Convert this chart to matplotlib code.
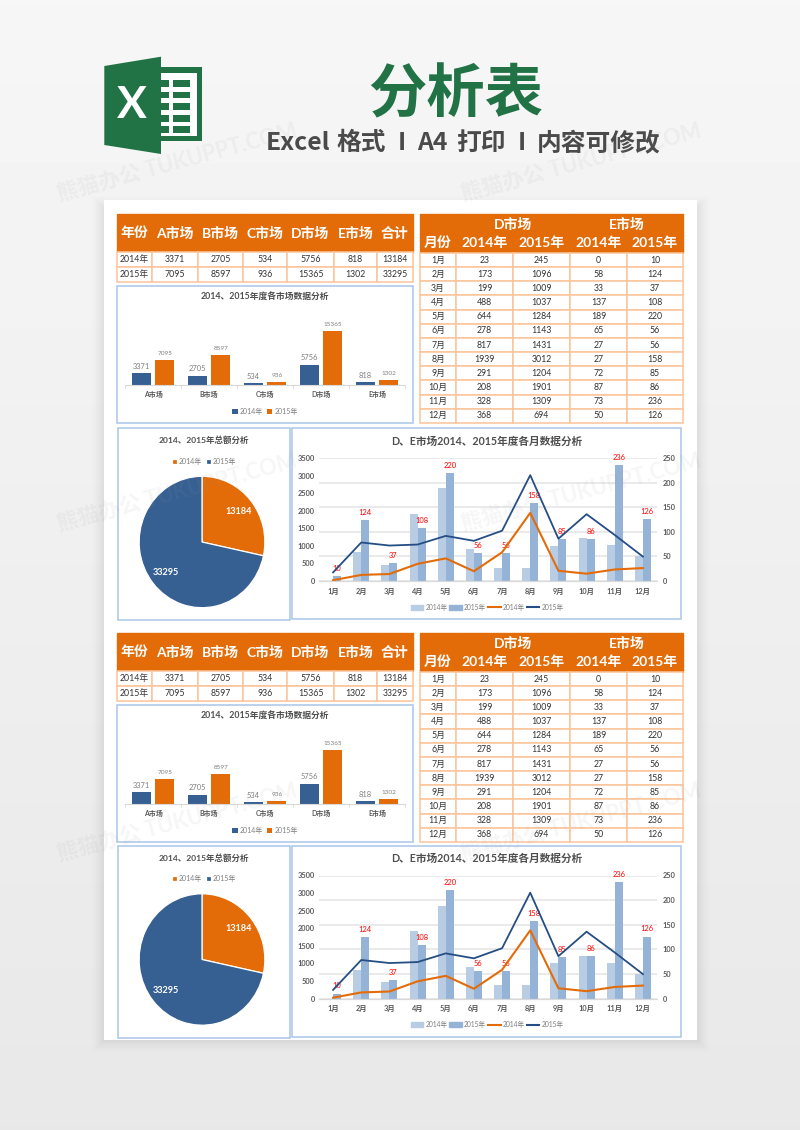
"""
Excel template poster: market tables, bar chart, pie and monthly combo chart, two copies on one page.
"""
import numpy as np
import matplotlib.pyplot as plt
from matplotlib.patches import Rectangle, Polygon
from matplotlib.lines import Line2D

plt.rcParams['font.family'] = ['Lato', 'Noto Sans CJK SC', 'DejaVu Sans']

# Data
markets = ['A市场', 'B市场', 'C市场', 'D市场', 'E市场']
market_2014 = [3371, 2705, 534, 5756, 818]
market_2015 = [7095, 8597, 936, 15365, 1302]
total_2014 = 13184
total_2015 = 33295
months = ['1月', '2月', '3月', '4月', '5月', '6月', '7月', '8月', '9月', '10月', '11月', '12月']
d_2014 = [23, 173, 199, 488, 644, 278, 817, 1939, 291, 208, 328, 368]
d_2015 = [245, 1096, 1009, 1037, 1284, 1143, 1431, 3012, 1204, 1901, 1309, 694]
e_2014 = [0, 58, 33, 137, 189, 65, 27, 27, 72, 87, 73, 50]
e_2015 = [10, 124, 37, 108, 220, 56, 56, 158, 85, 86, 236, 126]
left_ticks = [0, 500, 1000, 1500, 2000, 2500, 3000, 3500]
right_ticks = [0, 50, 100, 150, 200, 250]

# Colours
ORANGE = '#E36C09'
BLUE = '#376092'
LINE_BLUE = '#254E84'
LIGHT1 = '#B8CCE4'
LIGHT2 = '#95B3D7'
GREEN = '#217346'
CELL_EDGE = '#FBC49A'
PANEL_EDGE = '#A9C5E8'
TXT = '#333333'
GREY = '#7F7F7F'
TITLE = '#505050'

W, H = 800, 1130
fig = plt.figure(figsize=(W / 100, H / 100), dpi=100)

bg = fig.add_axes([0, 0, 1, 1], zorder=-1)
grad = np.linspace(0.965, 0.91, 256).reshape(-1, 1)
bg.imshow(grad, cmap='gray', vmin=0, vmax=1, extent=(0, W, H, 0), aspect='auto')
bg.set_xlim(0, W)
bg.set_ylim(H, 0)
bg.axis('off')


def px_axes(l, t, r, b, **kw):
    return fig.add_axes([l / W, 1 - b / H, (r - l) / W, (b - t) / H], **kw)


def panel(l, t, r, b):
    bg.add_patch(Rectangle((l, t), r - l, b - t, facecolor='white', edgecolor=PANEL_EDGE, linewidth=1.1))


def make_table(l, t, r, b, rows, col_edges, row_heights, header_rows, size_body=6.3, size_head=10):
    ax = px_axes(l, t, r, b)
    ax.axis('off')
    col_w = np.diff(col_edges) / (col_edges[-1] - col_edges[0])
    tb = ax.table(cellText=rows, colWidths=list(col_w), cellLoc='center', bbox=[0, 0, 1, 1])
    tb.auto_set_font_size(False)
    for (i, j), cell in tb.get_celld().items():
        cell.set_height(row_heights[i])
        cell.PAD = 0.01
        if i < header_rows:
            cell.set_facecolor(ORANGE)
            cell.set_edgecolor(ORANGE)
            cell.get_text().set_color('white')
            cell.get_text().set_fontweight('bold')
            cell.get_text().set_fontsize(size_head)
        else:
            cell.set_facecolor('white')
            cell.set_edgecolor(CELL_EDGE)
            cell.set_linewidth(1.1)
            cell.get_text().set_color(TXT)
            cell.get_text().set_fontsize(size_body)
    return ax


def draw_bar_chart(dy):
    panel(117, 286 + dy, 413, 423 + dy)
    bg.text(265, 297 + dy, '2014、2015年度各市场数据分析', ha='center', va='center',
            fontsize=6.3, fontweight='bold', color=TITLE)
    ax = px_axes(125, 315 + dy, 405, 385 + dy)
    ax.patch.set_visible(False)
    x = np.arange(len(markets))
    b1 = ax.bar(x - 0.21, market_2014, 0.34, color=BLUE, label='2014年')
    b2 = ax.bar(x + 0.21, market_2015, 0.34, color=ORANGE, label='2015年')
    ax.bar_label(b1, padding=2.5, fontsize=5.4, color=GREY)
    ax.bar_label(b2, padding=3, fontsize=4.6, color=GREY)
    ax.set_xlim(-0.5, 4.5)
    ax.set_ylim(0, 20000)
    ax.set_yticks([])
    ax.set_xticks(x)
    ax.set_xticklabels(markets, fontsize=5, fontweight='bold', color='#595959')
    ax.set_xticks(np.arange(-0.5, 5), minor=True)
    ax.tick_params(axis='x', which='major', length=0, pad=4)
    ax.tick_params(axis='x', which='minor', length=2, color='#D9D9D9', width=0.6)
    for s in ['top', 'left', 'right']:
        ax.spines[s].set_visible(False)
    ax.spines['bottom'].set_color('#D9D9D9')
    ax.legend(loc='center', bbox_to_anchor=(265, 411 + dy), bbox_transform=bg.transData, ncol=2,
              frameon=False, fontsize=5, labelcolor=GREY, handlelength=0.8, handleheight=0.8,
              handletextpad=0.3, columnspacing=0.5, borderpad=0)


def draw_pie(dy):
    panel(118, 428 + dy, 290, 620 + dy)
    bg.text(204, 440 + dy, '2014、2015年总额分析', ha='center', va='center',
            fontsize=6.1, fontweight='bold', color=TITLE)
    ax = px_axes(202 - 66, 542 + dy - 69, 202 + 66, 542 + dy + 69)
    values = [total_2014, total_2015]
    wedges, _, autotexts = ax.pie(values, colors=[ORANGE, BLUE], startangle=90, counterclock=False,
                                  radius=1, pctdistance=0.75,
                                  autopct=lambda p: f'{p / 100 * sum(values):.0f}',
                                  wedgeprops=dict(edgecolor='white', linewidth=0.9))
    for t in autotexts:
        t.set_color('white')
        t.set_fontweight('bold')
        t.set_fontsize(6.6)
    ax.set_aspect('auto')
    ax.set_xlim(-1.05, 1.05)
    ax.set_ylim(-1.05, 1.05)
    ax.legend(wedges, ['2014年', '2015年'], loc='center', bbox_to_anchor=(204, 461 + dy),
              bbox_transform=bg.transData, ncol=2, frameon=False, fontsize=5, labelcolor=GREY,
              handlelength=0.7, handleheight=0.7, handletextpad=0.3, columnspacing=0.5, borderpad=0)


def draw_combo(dy):
    panel(292, 428 + dy, 681, 619 + dy)
    bg.text(487, 441 + dy, 'D、E市场2014、2015年度各月数据分析', ha='center', va='center',
            fontsize=7.7, fontweight='bold', color=TITLE)
    x = np.arange(len(months))
    ax = px_axes(319, 458 + dy, 657, 581 + dy, zorder=2)
    ax.patch.set_visible(False)
    ax2 = ax.twinx()
    # bars are the E market on the right axis, lines the D market on the left one
    ax2.set_zorder(1)
    ax2.bar(x - 0.142, e_2014, 0.284, color=LIGHT1)
    b2 = ax2.bar(x + 0.142, e_2015, 0.284, color=LIGHT2)
    ax2.bar_label(b2, padding=3, fontsize=5.4, color='#FF0000', zorder=5)
    ax2.set_ylim(0, 250)
    ax2.set_yticks(right_ticks)
    ax2.grid(True, axis='y', color='#E4E4E4', linewidth=1.1)
    ax2.set_axisbelow(True)
    ax2.tick_params(axis='y', length=0, pad=4, labelsize=5.3, labelcolor='#595959')

    ax.plot(x, d_2014, color=ORANGE, linewidth=1.5)
    ax.plot(x, d_2015, color=LINE_BLUE, linewidth=1.3)
    ax.set_xlim(-0.5, 11.5)
    ax.set_ylim(0, 3500)
    ax.set_yticks(left_ticks)
    ax.set_xticks(x)
    ax.set_xticklabels(months, fontsize=5.3, fontweight='bold', color='#595959')
    ax.tick_params(axis='x', length=0, pad=5)
    ax.tick_params(axis='y', length=0, pad=3, labelsize=5.3, labelcolor='#595959')
    for lab in ax.get_yticklabels() + ax2.get_yticklabels():
        lab.set_fontweight('bold')
    for a in (ax, ax2):
        for s in ['top', 'left', 'right']:
            a.spines[s].set_visible(False)
        a.spines['bottom'].set_color('#D9D9D9')

    handles = [Rectangle((0, 0), 1, 1, color=LIGHT1), Rectangle((0, 0), 1, 1, color=LIGHT2),
               Line2D([], [], color=ORANGE, linewidth=1.5), Line2D([], [], color=LINE_BLUE, linewidth=1.5)]
    ax.legend(handles, ['2014年', '2015年', '2014年', '2015年'], loc='center',
              bbox_to_anchor=(487, 607 + dy), bbox_transform=bg.transData, ncol=4, frameon=False,
              fontsize=4.8, labelcolor=GREY, handlelength=1.9, handleheight=0.7,
              handletextpad=0.3, columnspacing=0.3, borderpad=0)


def draw_block(dy, dy_low):
    # summary table
    head = ['年份'] + markets + ['合计']
    rows = [head,
            ['2014年'] + [str(v) for v in market_2014] + [str(total_2014)],
            ['2015年'] + [str(v) for v in market_2015] + [str(total_2015)]]
    make_table(117, 214 + dy, 413, 282 + dy, rows, [117, 152, 198, 243, 287, 334, 377, 413], [38, 15, 15], 1)

    # monthly table, D市场 and E市场 span two columns each so they sit on top of it
    rows = [['', '', '', '', ''], ['月份', '2014年', '2015年', '2014年', '2015年']]
    for i, m in enumerate(months):
        rows.append([m, str(d_2014[i]), str(d_2015[i]), str(e_2014[i]), str(e_2015[i])])
    make_table(420, 214 + dy, 683, 423 + dy, rows, [420, 456, 513, 570, 627, 683], [19, 20] + [14.17] * 12, 2)
    fig.text(513 / W, 1 - (224 + dy) / H, 'D市场', ha='center', va='center', fontsize=10,
             fontweight='bold', color='white')
    fig.text(627 / W, 1 - (224 + dy) / H, 'E市场', ha='center', va='center', fontsize=10,
             fontweight='bold', color='white')

    draw_bar_chart(dy)
    draw_pie(dy_low)
    draw_combo(dy_low)


# Page with a soft shadow, mostly below and to the sides
for grow, a in zip([12, 10, 8, 6, 4, 2], [0.006, 0.008, 0.01, 0.012, 0.014, 0.016]):
    bg.add_patch(Rectangle((104 - grow, 200 - grow + 8), 593 + 2 * grow, 832 + 2 * grow,
                           facecolor='black', edgecolor='none', alpha=a))
bg.add_patch(Rectangle((104, 200), 593, 840, facecolor='white', edgecolor='none'))

# Logo
bg.add_patch(Rectangle((161, 67.3), 41.3, 73.4, facecolor=GREEN, edgecolor='none'))
bg.add_patch(Rectangle((161, 72.7), 35.7, 63.3, facecolor='white', edgecolor='none'))
for top, bot in [(80, 87.3), (91.7, 98.3), (103.3, 110), (115, 121.7), (126, 133.3)]:
    bg.add_patch(Rectangle((161, top), 8, bot - top, facecolor=GREEN, edgecolor='none'))
    bg.add_patch(Rectangle((173.3, top), 16.7, bot - top, facecolor=GREEN, edgecolor='none'))
bg.add_patch(Polygon([(104.3, 66), (161, 56.7), (161, 154), (104.3, 145)], closed=True,
                     facecolor=GREEN, edgecolor='none'))
bg.text(132.3, 105, 'X', ha='center', va='center', fontsize=32, fontweight='bold', color='white',
        family=['Liberation Sans Narrow', 'Lato'])

# Heading
bg.text(456, 95, '分析表', ha='center', va='center', fontsize=42, fontweight='bold', color=GREEN,
        family=['Noto Sans CJK SC'])
subtitle = [('Excel', 266), ('格式', 336), ('I', 398), ('A4', 417), ('打印', 456), ('I', 518), ('内容可修改', 537)]
for s, xpos in subtitle:
    bg.text(xpos, 143, s, ha='left', va='center', fontsize=17.8, fontweight='bold', color='#4A4A4A',
            family=['Noto Sans CJK SC'])

draw_block(0, 0)
draw_block(419, 417.5)

# Watermark over everything
for y0 in [205, 535, 865]:
    for x0 in [60, 464]:
        fig.text(x0 / W, 1 - y0 / H, '熊猫办公 TUKUPPT.COM', ha='left', va='bottom', rotation=15,
                 rotation_mode='anchor', fontsize=15.5, fontweight='bold', color='#999999', alpha=0.09)

fig.savefig('out.png', dpi=100)
